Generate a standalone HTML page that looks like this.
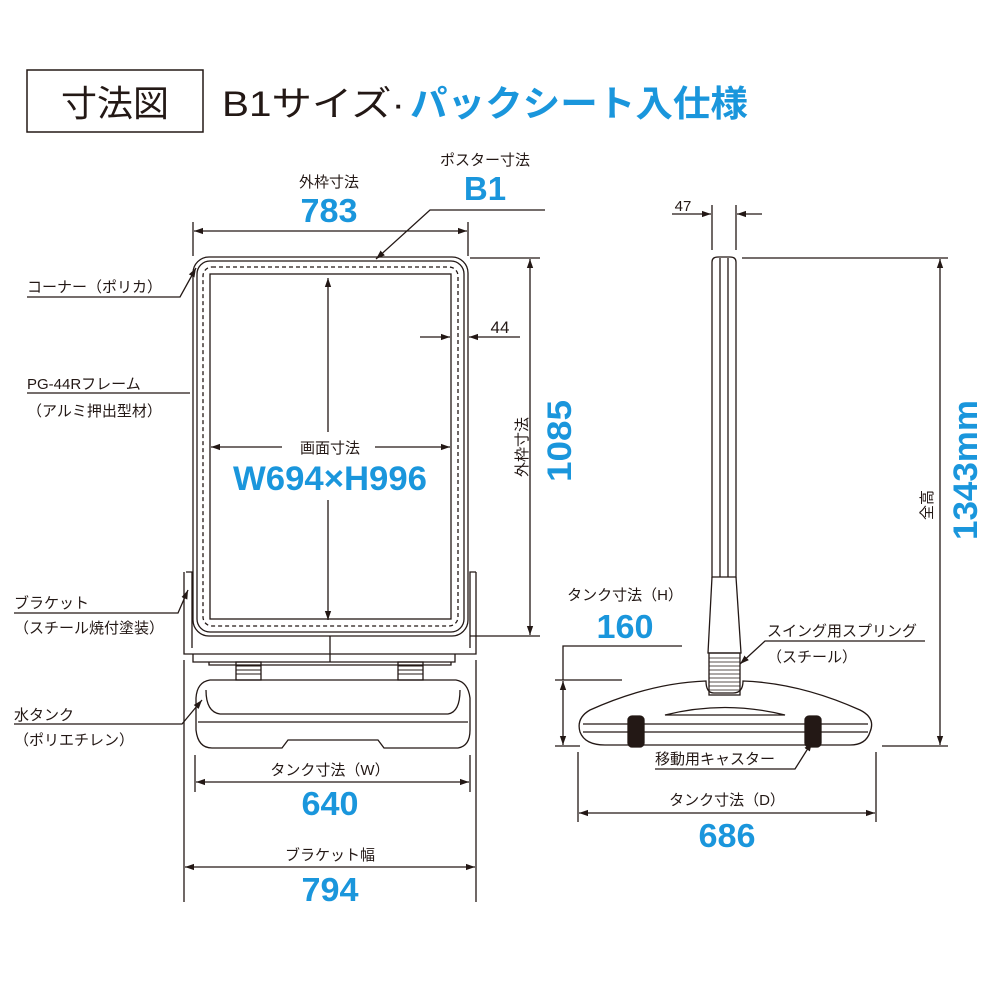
<!DOCTYPE html>
<html><head><meta charset="utf-8"><style>
html,body{margin:0;padding:0;background:#fff;}
svg{display:block;}
text{font-family:"Liberation Sans","Noto Sans CJK JP",sans-serif;fill:#231815;}
.b{fill:#1a96dc;font-weight:bold;}
</style></head><body>
<svg width="1000" height="1000" viewBox="0 0 1000 1000" xmlns="http://www.w3.org/2000/svg">
<defs>
<marker id="a" viewBox="0 0 10 10" refX="10" refY="5" markerWidth="7" markerHeight="7" orient="auto-start-reverse"><path d="M0,1.5 L10,5 L0,8.5 z" fill="#231815"/></marker>
</defs>
<g stroke="#231815" fill="none" stroke-width="1.3">
<rect x="27" y="70" width="176" height="62" stroke-width="1.5"/>
</g>
<text x="115" y="116" font-size="36" text-anchor="middle">寸法図</text>
<text x="222" y="116" font-size="35" textLength="183" lengthAdjust="spacingAndGlyphs">B1サイズ·</text>
<text x="410" y="116" font-size="36" class="b" textLength="338" lengthAdjust="spacingAndGlyphs">パックシート入仕様</text>

<g stroke="#231815" fill="none" stroke-width="1.3">
<rect x="193" y="257" width="275" height="379" rx="16"/>
<rect x="197" y="261" width="267" height="371" rx="13"/>
<rect x="203" y="267" width="255" height="359" rx="9" stroke-dasharray="4,3"/>
<rect x="210" y="274" width="241" height="345"/>
<path d="M186,572 h6 v76 M476,572 h-6 v76"/>
<path d="M184,572 v82 h292 v-82"/>
<path d="M193,654 v8 h262 v-8 M209,662 v3 h242 v-3"/>
<line x1="330" y1="636" x2="330" y2="662"/>
<rect x="236" y="662" width="25" height="18"/>
<rect x="398" y="662" width="25" height="18"/>
<path d="M236,666h25M236,670h25M236,674h25M398,666h25M398,670h25M398,674h25" stroke-width="0.9"/>
<path d="M210,680 Q197,682 196,698 L196,730 Q198,748 212,748 L282,748 L288,740 L378,740 L384,748 L458,748 Q470,746 470,730 L470,698 Q468,682 456,680 Z"/>
<path d="M206,690 Q206,712 220,714 L448,714 Q460,712 460,690"/>
<path d="M198,722 L468,722"/>
<line x1="193" y1="222" x2="193" y2="256"/><line x1="468" y1="222" x2="468" y2="256"/>
<line x1="194" y1="231" x2="467" y2="231" marker-start="url(#a)" marker-end="url(#a)"/>
<polyline points="545,210 430,210 376,259" marker-end="url(#a)"/>
<line x1="328" y1="278" x2="328" y2="432" marker-start="url(#a)"/>
<line x1="328" y1="500" x2="328" y2="620" marker-end="url(#a)"/>
<line x1="211" y1="447" x2="282" y2="447" marker-start="url(#a)"/>
<line x1="375" y1="447" x2="450" y2="447" marker-end="url(#a)"/>
<line x1="420" y1="337" x2="450" y2="337" marker-end="url(#a)"/>
<line x1="520" y1="337" x2="469" y2="337" marker-end="url(#a)"/>
<line x1="470" y1="258" x2="540" y2="258"/><line x1="470" y1="636" x2="540" y2="636"/>
<line x1="530" y1="259" x2="530" y2="635" marker-start="url(#a)" marker-end="url(#a)"/>
<line x1="195" y1="755" x2="195" y2="792"/><line x1="470" y1="755" x2="470" y2="792"/>
<line x1="196" y1="782" x2="469" y2="782" marker-start="url(#a)" marker-end="url(#a)"/>
<line x1="184" y1="660" x2="184" y2="902"/><line x1="476" y1="660" x2="476" y2="902"/>
<line x1="185" y1="867" x2="475" y2="867" marker-start="url(#a)" marker-end="url(#a)"/>
<polyline points="27,297 180,297 196,268" marker-end="url(#a)"/>
<polyline points="27,393 190,393"/>
<polyline points="14,613 178,613 188,590" marker-end="url(#a)"/>
<polyline points="14,724 182,724 202,700" marker-end="url(#a)"/>
<path d="M712,262 Q712,257 718,257 L730,257 Q736,257 736,262 L736,577 L712,577 Z"/>
<line x1="720" y1="258" x2="720" y2="577"/><line x1="728" y1="258" x2="728" y2="577"/>
<path d="M712,577 L708,653 L741,653 L736,577"/>
<rect x="709" y="653" width="31" height="42"/>
<path d="M709,658h31M709,662h31M709,666h31M709,670h31M709,674h31M709,678h31M709,682h31M709,686h31M709,690h31" stroke-width="0.8"/>
<path d="M706,681 Q706,693 714,693 L733,693 Q743,693 743,681 Q800,683 860,710 Q876,718 870,732 Q866,745 850,745 L605,745 Q585,745 580,732 Q576,718 590,710 Q650,683 706,681 Z"/>
<path d="M583,724 L868,724 M583,732 L868,732"/>
<path d="M665,715 Q725,700 785,715 Z"/>
<rect x="628" y="716" width="16" height="31" rx="4" fill="#231815"/>
<rect x="805" y="716" width="16" height="31" rx="4" fill="#231815"/>
<line x1="712" y1="205" x2="712" y2="250"/><line x1="736" y1="205" x2="736" y2="250"/>
<line x1="672" y1="214" x2="711" y2="214" marker-end="url(#a)"/>
<line x1="762" y1="214" x2="737" y2="214" marker-end="url(#a)"/>
<line x1="742" y1="258" x2="948" y2="258"/><line x1="882" y1="746" x2="948" y2="746"/>
<line x1="940" y1="259" x2="940" y2="745" marker-start="url(#a)" marker-end="url(#a)"/>
<polyline points="682,646 563,646 563,680"/>
<line x1="555" y1="680" x2="622" y2="680"/>
<line x1="555" y1="746" x2="580" y2="746"/>
<line x1="563" y1="681" x2="563" y2="745" marker-start="url(#a)" marker-end="url(#a)"/>
<line x1="578" y1="752" x2="578" y2="822"/><line x1="876" y1="752" x2="876" y2="822"/>
<line x1="579" y1="813" x2="875" y2="813" marker-start="url(#a)" marker-end="url(#a)"/>
<polyline points="925,641 765,641 740,664" marker-end="url(#a)"/>
<polyline points="655,769 795,769 812,742" marker-end="url(#a)"/>
</g>

<text x="329" y="187" font-size="15" text-anchor="middle">外枠寸法</text>
<text x="329" y="222" font-size="33" class="b" text-anchor="middle" textLength="57" lengthAdjust="spacingAndGlyphs">783</text>
<text x="485" y="165" font-size="15" text-anchor="middle">ポスター寸法</text>
<text x="485" y="200" font-size="33" class="b" text-anchor="middle">B1</text>
<text x="330" y="453" font-size="15" text-anchor="middle">画面寸法</text>
<text x="330" y="490" font-size="34" class="b" text-anchor="middle" textLength="194" lengthAdjust="spacingAndGlyphs">W694×H996</text>
<text x="500" y="333" font-size="17" text-anchor="middle">44</text>
<text transform="translate(527,447) rotate(-90)" font-size="15" text-anchor="middle">外枠寸法</text>
<text transform="translate(571,441) rotate(-90)" font-size="34" class="b" text-anchor="middle" textLength="82" lengthAdjust="spacingAndGlyphs">1085</text>
<text x="330" y="775" font-size="15" text-anchor="middle">タンク寸法（W）</text>
<text x="330" y="815" font-size="33" class="b" text-anchor="middle" textLength="57" lengthAdjust="spacingAndGlyphs">640</text>
<text x="330" y="860" font-size="15" text-anchor="middle">ブラケット幅</text>
<text x="330" y="901" font-size="33" class="b" text-anchor="middle" textLength="57" lengthAdjust="spacingAndGlyphs">794</text>

<text x="27" y="292" font-size="15">コーナー（ポリカ）</text>
<text x="27" y="389" font-size="15">PG-44Rフレーム</text>
<text x="27" y="416" font-size="15">（アルミ押出型材）</text>
<text x="14" y="608" font-size="15">ブラケット</text>
<text x="14" y="633" font-size="15">（スチール焼付塗装）</text>
<text x="14" y="720" font-size="15">水タンク</text>
<text x="14" y="745" font-size="15">（ポリエチレン）</text>

<text x="683" y="211" font-size="15" text-anchor="middle">47</text>
<text transform="translate(932,505) rotate(-90)" font-size="15" text-anchor="middle">全高</text>
<text transform="translate(977,470) rotate(-90)" font-size="34" class="b" text-anchor="middle" textLength="140" lengthAdjust="spacingAndGlyphs">1343mm</text>
<text x="625" y="600" font-size="15" text-anchor="middle">タンク寸法（H）</text>
<text x="625" y="638" font-size="33" class="b" text-anchor="middle" textLength="57" lengthAdjust="spacingAndGlyphs">160</text>
<text x="767" y="636" font-size="15">スイング用スプリング</text>
<text x="767" y="662" font-size="15">（スチール）</text>
<text x="655" y="764" font-size="15">移動用キャスター</text>
<text x="727" y="805" font-size="15" text-anchor="middle">タンク寸法（D）</text>
<text x="727" y="847" font-size="33" class="b" text-anchor="middle" textLength="57" lengthAdjust="spacingAndGlyphs">686</text>
</svg>
</body></html>
